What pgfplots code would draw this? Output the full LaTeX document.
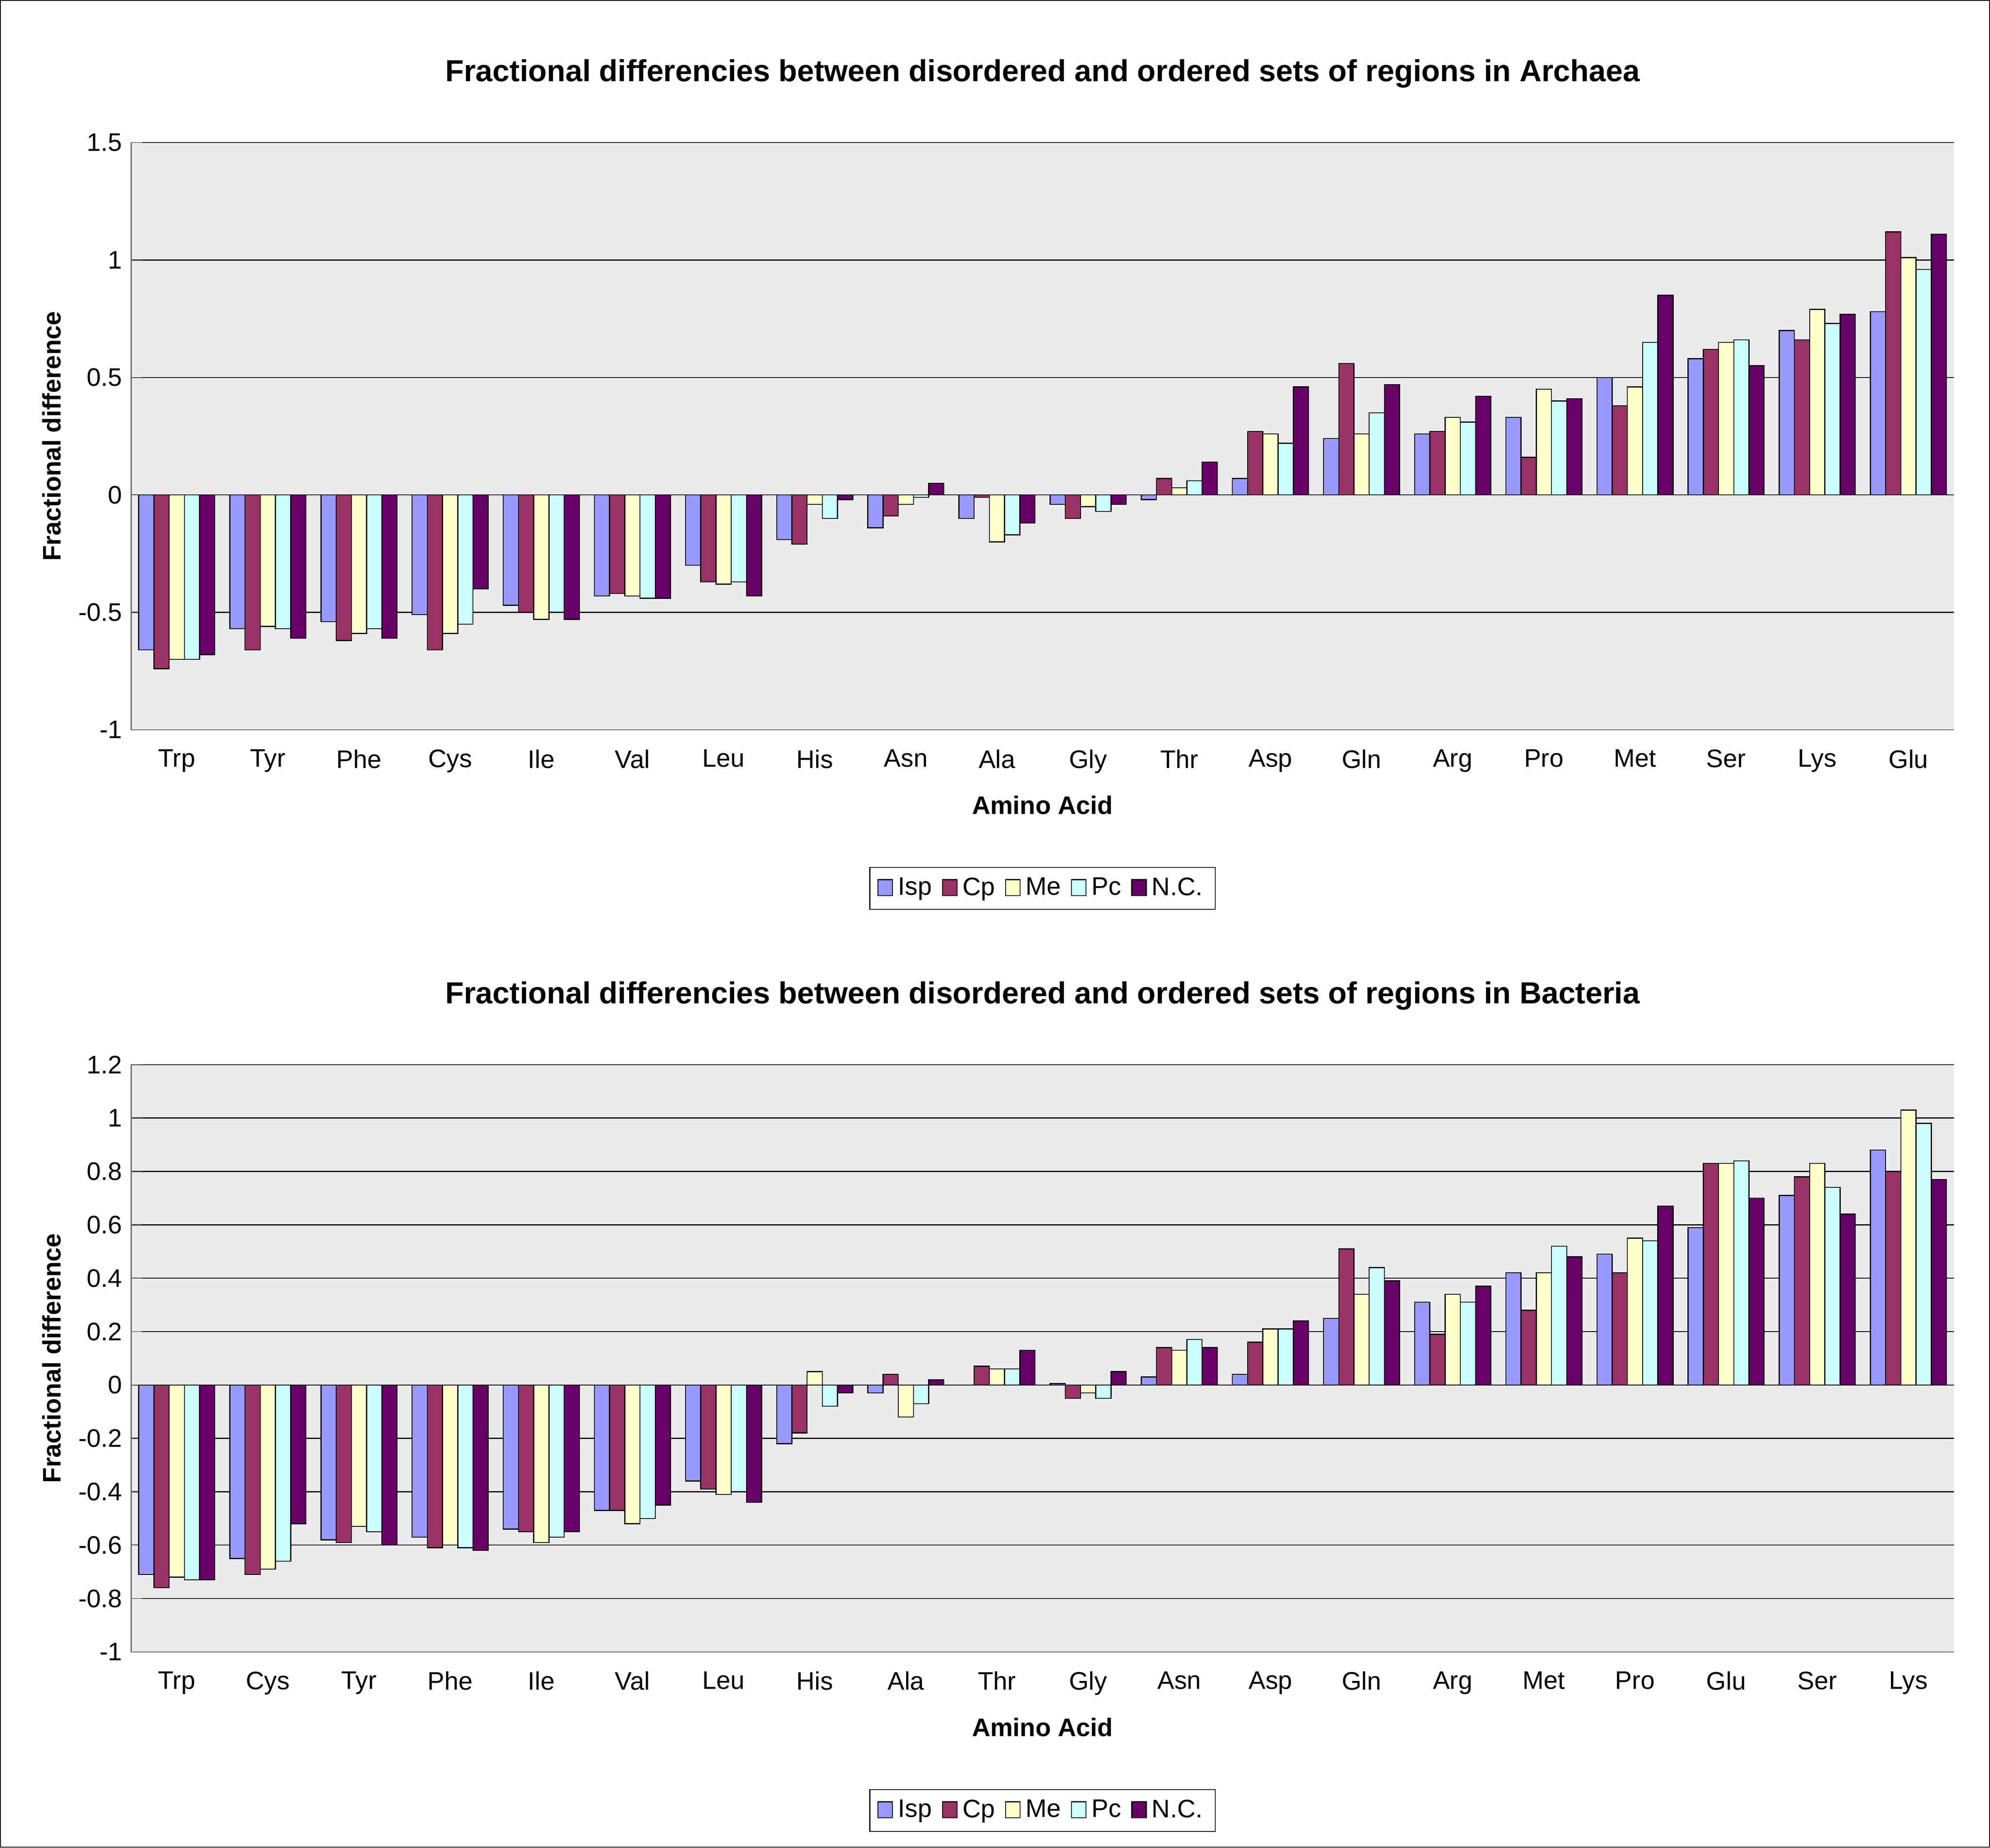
\documentclass[border=0pt]{standalone}
\usepackage{pgfplots}
\pgfplotsset{compat=1.18}
\usepackage{fontspec}
\setmainfont{Liberation Sans}
\definecolor{cIsp}{HTML}{9999FF}
\definecolor{cCp}{HTML}{993366}
\definecolor{cMe}{HTML}{FFFFCC}
\definecolor{cPc}{HTML}{CCFFFF}
\definecolor{cNC}{HTML}{660066}
\pgfplotsset{
  mystyle/.style={
    scale only axis, width=718.5pt, height=231.5pt,
    ybar=0pt, bar width=6pt,
    xmin=-0.5, xmax=19.5, xtick={0,...,19},
    major x tick style={draw=none}, xtick style={draw=none},
    axis background/.style={fill=black!8},
    ymajorgrids, grid style={black, thin},
    axis line style={black!60}, axis x line*=bottom, axis y line*=left,
    every axis/.append style={font=\fontsize{10}{12}\selectfont},
    tick label style={font=\fontsize{10}{12}\selectfont},
    /pgf/number format/assume math mode=true,
    yticklabel style={/pgf/number format/fixed},
    title style={font=\bfseries\fontsize{12}{14}\selectfont, yshift=12pt},
    xlabel={\bfseries Amino Acid}, ylabel={\bfseries Fractional difference},
    xlabel style={yshift=-2pt},
    legend columns=-1,
    legend style={at={(0.5,-0.27)}, anchor=center, draw=black, font=\fontsize{10}{12}\selectfont, /tikz/every even column/.append style={column sep=2pt}},
    legend image code/.code={\draw[#1] (0cm,-0.1cm) rectangle (0.2cm,0.12cm);},
  }
}
\pgfplotstableread{
x Isp Cp Me Pc NC
0 -0.66 -0.74 -0.70 -0.70 -0.68
1 -0.57 -0.66 -0.56 -0.57 -0.61
2 -0.54 -0.62 -0.59 -0.57 -0.61
3 -0.51 -0.66 -0.59 -0.55 -0.40
4 -0.47 -0.50 -0.53 -0.50 -0.53
5 -0.43 -0.42 -0.43 -0.44 -0.44
6 -0.30 -0.37 -0.38 -0.37 -0.43
7 -0.19 -0.21 -0.04 -0.10 -0.02
8 -0.14 -0.09 -0.04 -0.01 0.05
9 -0.10 -0.01 -0.20 -0.17 -0.12
10 -0.04 -0.10 -0.05 -0.07 -0.04
11 -0.02 0.07 0.03 0.06 0.14
12 0.07 0.27 0.26 0.22 0.46
13 0.24 0.56 0.26 0.35 0.47
14 0.26 0.27 0.33 0.31 0.42
15 0.33 0.16 0.45 0.40 0.41
16 0.50 0.38 0.46 0.65 0.85
17 0.58 0.62 0.65 0.66 0.55
18 0.70 0.66 0.79 0.73 0.77
19 0.78 1.12 1.01 0.96 1.11
}\archaea
\pgfplotstableread{
x Isp Cp Me Pc NC
0 -0.71 -0.76 -0.72 -0.73 -0.73
1 -0.65 -0.71 -0.69 -0.66 -0.52
2 -0.58 -0.59 -0.53 -0.55 -0.60
3 -0.57 -0.61 -0.60 -0.61 -0.62
4 -0.54 -0.55 -0.59 -0.57 -0.55
5 -0.47 -0.47 -0.52 -0.50 -0.45
6 -0.36 -0.39 -0.41 -0.40 -0.44
7 -0.22 -0.18 0.05 -0.08 -0.03
8 -0.03 0.04 -0.12 -0.07 0.02
9 0.00 0.07 0.06 0.06 0.13
10 0.005 -0.05 -0.03 -0.05 0.05
11 0.03 0.14 0.13 0.17 0.14
12 0.04 0.16 0.21 0.21 0.24
13 0.25 0.51 0.34 0.44 0.39
14 0.31 0.19 0.34 0.31 0.37
15 0.42 0.28 0.42 0.52 0.48
16 0.49 0.42 0.55 0.54 0.67
17 0.59 0.83 0.83 0.84 0.70
18 0.71 0.78 0.83 0.74 0.64
19 0.88 0.80 1.03 0.98 0.77
}\bacteria
\begin{document}
\begin{tikzpicture}[x=1pt,y=1pt]
\draw[black, thin] (0,0) rectangle (784,-728);
\begin{axis}[mystyle, at={(51.5pt,-287.5pt)}, anchor=south west,
  title={Fractional differencies between disordered and ordered sets of regions in Archaea},
  ymin=-1, ymax=1.5, ytick={-1,-0.5,0,0.5,1,1.5},
  xticklabels={Trp,Tyr,Phe,Cys,Ile,Val,Leu,His,Asn,Ala,Gly,Thr,Asp,Gln,Arg,Pro,Met,Ser,Lys,Glu}]
\addplot[fill=cIsp, draw=black, thin] table[x=x,y=Isp]{\archaea};
\addplot[fill=cCp, draw=black, thin] table[x=x,y=Cp]{\archaea};
\addplot[fill=cMe, draw=black, thin] table[x=x,y=Me]{\archaea};
\addplot[fill=cPc, draw=black, thin] table[x=x,y=Pc]{\archaea};
\addplot[fill=cNC, draw=black, thin] table[x=x,y=NC]{\archaea};
\legend{Isp,Cp,Me,Pc,N.C.}
\end{axis}
\begin{axis}[mystyle, at={(51.5pt,-651pt)}, anchor=south west,
  title={Fractional differencies between disordered and ordered sets of regions in Bacteria},
  ymin=-1, ymax=1.2, ytick={-1,-0.8,...,1.21},
  xticklabels={Trp,Cys,Tyr,Phe,Ile,Val,Leu,His,Ala,Thr,Gly,Asn,Asp,Gln,Arg,Met,Pro,Glu,Ser,Lys}]
\addplot[fill=cIsp, draw=black, thin] table[x=x,y=Isp]{\bacteria};
\addplot[fill=cCp, draw=black, thin] table[x=x,y=Cp]{\bacteria};
\addplot[fill=cMe, draw=black, thin] table[x=x,y=Me]{\bacteria};
\addplot[fill=cPc, draw=black, thin] table[x=x,y=Pc]{\bacteria};
\addplot[fill=cNC, draw=black, thin] table[x=x,y=NC]{\bacteria};
\legend{Isp,Cp,Me,Pc,N.C.}
\end{axis}
\end{tikzpicture}
\end{document}
